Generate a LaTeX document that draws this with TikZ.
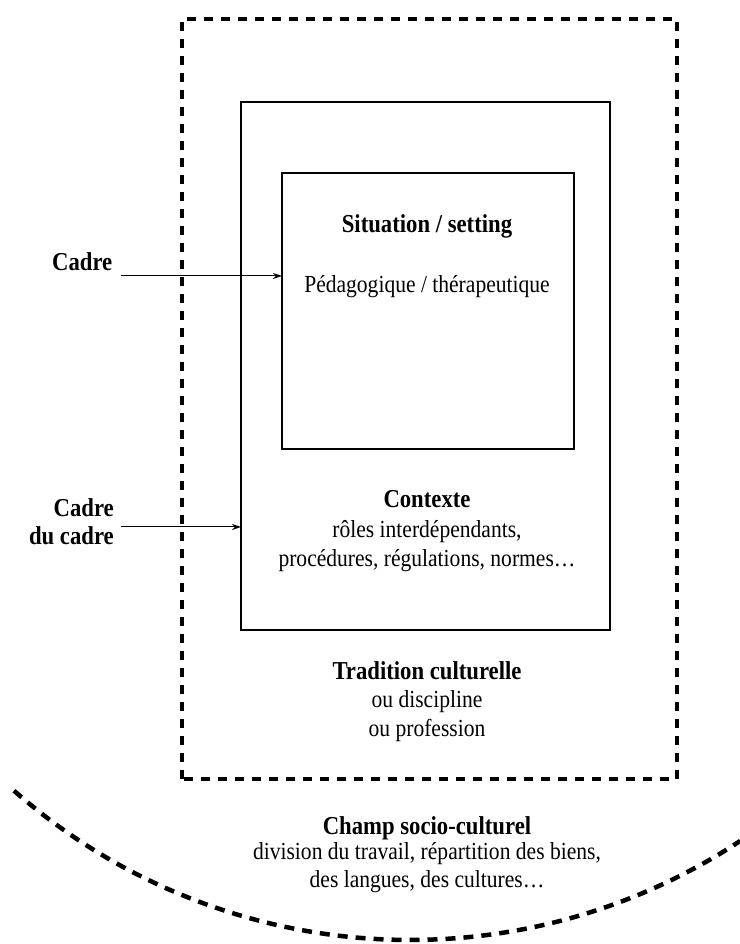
\documentclass[tikz,border=0pt]{standalone}
\usepackage{fontspec}
\setmainfont{Liberation Serif}[FakeStretch=0.88]
\usetikzlibrary{arrows.meta}
\tikzset{
  txt/.style={anchor=base, inner sep=0pt, font=\fontsize{24.5}{29}\selectfont},
  btxt/.style={txt, font=\fontsize{25.8}{29}\selectfont\bfseries},
  dashbox/.style={draw, line width=3.5pt, dash pattern=on 9pt off 8pt},
  solidbox/.style={draw, line width=1.6pt},
  pointer/.style={draw, line width=1pt, -{Stealth[length=9pt,width=6pt]}},
}
\begin{document}
\begin{tikzpicture}[x=1pt,y=1pt]
\useasboundingbox (0,0) rectangle (739,944);
% frames
\coordinate (oSW) at (182,165);
\coordinate (oNE) at (677,925);
\draw[dashbox] (oSW) rectangle (oNE);
\coordinate (mSW) at (241,314);
\coordinate (mNE) at (610,842);
\draw[solidbox] (mSW) rectangle (mNE);
\coordinate (iSW) at (282,495);
\coordinate (iNE) at (574,771);
\draw[solidbox, line width=2pt] (iSW) rectangle (iNE);
% socio-cultural arc
\coordinate (arcC) at (410,604);
\draw[line width=4.5pt, dash pattern=on 10pt off 8pt] ([shift={(228.7:600)}]arcC) arc[start angle=228.7, end angle=303.4, radius=600];
% texts
\node[btxt] (sit) at (427,711) {Situation / setting};
\node[txt] (ped) at (427,651) {Pédagogique / thérapeutique};
\node[btxt] (ctx) at (427,436) {Contexte};
\node[txt] (ctx1) at (427,406) {rôles interdépendants,};
\node[txt] (ctx2) at (427,377) {procédures, régulations, normes\ldots};
\node[btxt] (trad) at (427,264) {Tradition culturelle};
\node[txt] (trad1) at (427,236) {ou discipline};
\node[txt] (trad2) at (427,207) {ou profession};
\node[btxt] (champ) at (427,109) {Champ socio-culturel};
\node[txt] (champ1) at (427,84) {division du travail, répartition des biens,};
\node[txt] (champ2) at (427,56) {des langues, des cultures\ldots};
% side labels
\node[btxt, anchor=base west] (cadre) at (52,673) {Cadre};
\node[btxt, anchor=base east] (cc1) at (114,427) {Cadre};
\node[btxt, anchor=base east] (cc2) at (114,399) {du cadre};
% arrows
\coordinate (a1) at (121,668);
\coordinate (b1) at (282,668);
\draw[pointer] (a1) -- (b1);
\coordinate (a2) at (121,417);
\coordinate (b2) at (241,417);
\draw[pointer] (a2) -- (b2);
\end{tikzpicture}
\end{document}
